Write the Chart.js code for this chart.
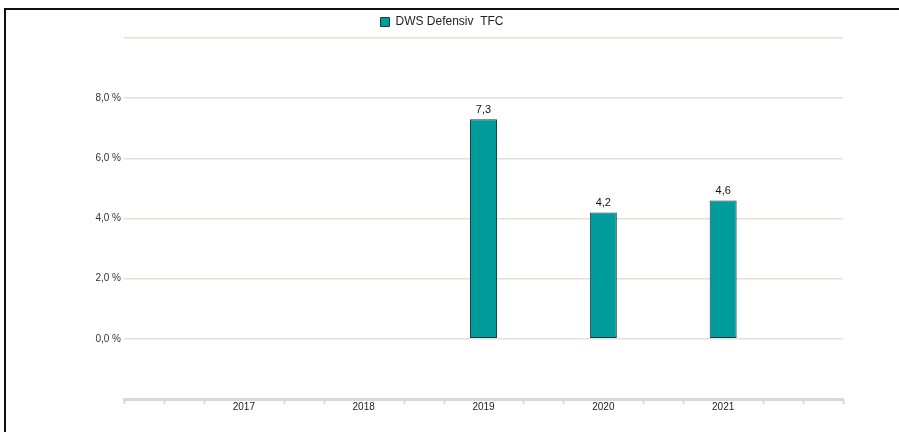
<!DOCTYPE html>
<html>
<head>
<meta charset="utf-8">
<script src="https://cdn.jsdelivr.net/npm/chart.js@4/dist/chart.umd.min.js"></script>
<style>
  body { margin: 0; background: #fff; }
  .frame { position: absolute; left: 4px; top: 8px; width: 900px; height: 430px;
           border-top: 2px solid #111; border-left: 2px solid #111; }
  #chart { position: absolute; left: 0; top: 0; }
</style>
</head>
<body>
<div class="frame"></div>
<canvas id="chart" width="899" height="432"></canvas>
<script>
// values
const years = ['2017', '2018', '2019', '2020', '2021'];
const returns = [null, null, 7.3, 4.2, 4.6];
const seriesName = 'DWS Defensiv  TFC';
const yTicks = [0, 2, 4, 6, 8];

const fontFamily = '"Liberation Sans", Arial, sans-serif';
const gridColor = '#e3e0d9';
const axisColor = '#dcd8cf';

// an empty slot on each side, so the years sit on the grid like in the original
const labels = [''].concat(years, ['']);
const data = [null].concat(returns, [null]);

function fmt(v) {
  return v.toFixed(1).replace('.', ',');
}

// value labels above the bars
const barLabels = {
  id: 'barLabels',
  afterDatasetsDraw(chart) {
    const ctx = chart.ctx;
    const meta = chart.getDatasetMeta(0);
    ctx.save();
    ctx.font = '11px ' + fontFamily;
    ctx.fillStyle = '#111';
    ctx.textAlign = 'center';
    ctx.textBaseline = 'bottom';
    meta.data.forEach((bar, i) => {
      const v = chart.data.datasets[0].data[i];
      if (v === null) return;
      ctx.fillText(fmt(v), bar.x, bar.y - 4);
    });
    ctx.restore();
  }
};

// small tick marks under the x axis, every third of a year
const minorTicks = {
  id: 'minorTicks',
  afterDraw(chart) {
    const x = chart.scales.x;
    const ctx = chart.ctx;
    const y0 = x.top;
    ctx.save();
    ctx.strokeStyle = axisColor;
    ctx.lineWidth = 2;
    const n = (labels.length - 1) * 3;
    for (let i = 0; i <= n; i++) {
      if (i % 3 === 0 && i !== 0 && i !== n) continue;
      const px = Math.round(x.getPixelForValue(i / 3)) + 0.5;
      ctx.beginPath();
      ctx.moveTo(px, y0);
      ctx.lineTo(px, y0 + 5);
      ctx.stroke();
    }
    ctx.restore();
  }
};

new Chart(document.getElementById('chart'), {
  type: 'bar',
  data: {
    labels: labels,
    datasets: [{
      label: seriesName,
      data: data,
      backgroundColor: '#009c9c',
      borderColor: '#1d3b3b',
      borderWidth: 1,
      borderSkipped: false,
      categoryPercentage: 1,
      barPercentage: 0.225
    }]
  },
  options: {
    responsive: false,
    animation: false,
    layout: { padding: { left: 0, right: 15, top: 10, bottom: 17 } },
    plugins: {
      tooltip: { enabled: false },
      legend: {
        labels: {
          boxWidth: 9,
          boxHeight: 9,
          color: '#222',
          font: { family: fontFamily, size: 12 },
          padding: 6
        }
      }
    },
    scales: {
      x: {
        offset: false,
        grid: { display: false, drawTicks: false },
        border: { display: true, color: axisColor, width: 3 },
        ticks: {
          color: '#222',
          font: { family: fontFamily, size: 10 },
          padding: 2,
          autoSkip: false,
          maxRotation: 0
        }
      },
      y: {
        min: -2,
        max: 10,
        afterFit(scale) { scale.width = 124; },
        grid: { color: gridColor, lineWidth: 1.5, drawTicks: false },
        border: { display: false },
        ticks: {
          stepSize: 2,
          padding: 3,
          color: '#333',
          font: { family: fontFamily, size: 10 },
          callback: v => yTicks.includes(v) ? fmt(v) + ' %' : ''
        }
      },
      // empty axis on the right, only to keep the plot away from the edge
      yRight: {
        position: 'right',
        display: true,
        afterFit(scale) { scale.width = 41; },
        grid: { display: false, drawTicks: false },
        border: { display: false },
        ticks: { display: false }
      }
    }
  },
  plugins: [barLabels, minorTicks]
});
</script>
</body>
</html>
